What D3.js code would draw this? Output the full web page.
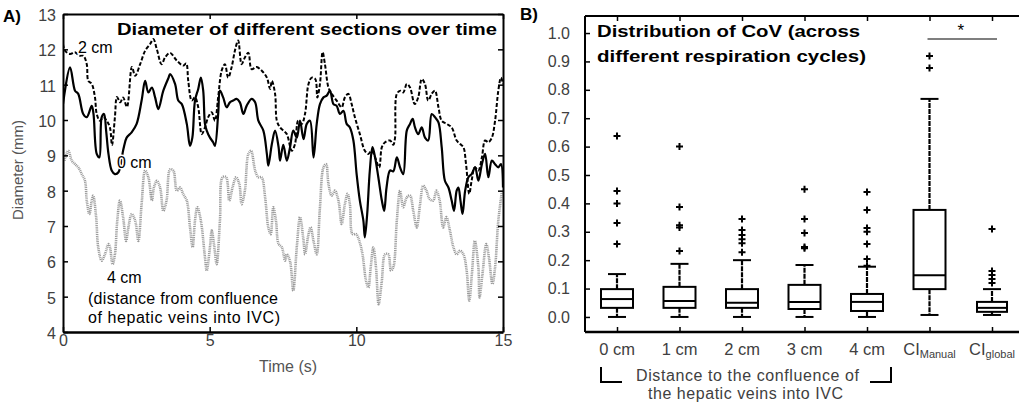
<!DOCTYPE html>
<html><head><meta charset="utf-8">
<script src="https://cdn.jsdelivr.net/npm/d3@7"></script>
<style>
body{margin:0;background:#fff;}
svg{display:block;font-family:"Liberation Sans",Arial,sans-serif;}
</style></head><body>
<svg id="chart" width="1019" height="410"></svg>
<script>
// ---------- data: panel A (diameter over time) ----------
const time0 = [0,0.24,0.41,0.52,0.69,0.81,0.98,1.04,1.15,1.24,1.32,1.4,1.47,1.55,1.66,1.77,1.89,2.06,2.17,2.34,2.51,2.68,2.8,2.91,3.03,3.14,3.25,3.42,3.6,3.65,3.82,3.93,4.05,4.22,4.33,4.41,4.5,4.61,4.7,4.78,4.84,4.9,5.01,5.12,5.18,5.29,5.35,5.46,5.58,5.69,5.8,5.92,6.03,6.15,6.26,6.43,6.55,6.66,6.83,6.95,7.0,7.12,7.23,7.35,7.4,7.51,7.63,7.74,7.85,7.97,8.08,8.2,8.31,8.42,8.54,8.65,8.76,8.88,8.99,9.1,9.22,9.33,9.44,9.56,9.67,9.78,9.9,10.01,10.12,10.24,10.29,10.37,10.46,10.55,10.64,10.75,10.87,10.95,11.03,11.15,11.26,11.38,11.49,11.6,11.72,11.83,11.92,12.0,12.11,12.23,12.34,12.45,12.57,12.68,12.8,12.91,13.02,13.14,13.25,13.33,13.42,13.48,13.55,13.62,13.71,13.82,13.93,14.05,14.16,14.28,14.39,14.5,14.62,14.73,14.84,14.93,15.0];
const diam0 = [10.45,11.49,10.83,10.74,10.17,10.08,10.4,10.17,9.04,8.94,10.08,10.17,9.7,9.04,8.57,8.47,8.52,9.18,9.5,9.65,9.89,10.55,11.11,10.78,10.92,10.64,10.31,10.83,11.2,11.3,11.02,10.55,10.45,9.89,9.27,9.5,10.55,10.88,11.2,10.83,9.89,9.7,9.5,9.37,9.27,10.17,10.83,10.64,10.36,10.5,10.55,10.6,10.5,10.17,10.4,10.6,10.5,9.98,9.7,9.04,8.71,9.32,9.7,9.23,8.85,9.3,8.85,9.23,9.7,9.5,9.98,9.46,9.89,9.98,8.94,9.89,10.45,10.64,10.69,10.83,10.45,10.4,10.17,10.26,9.89,9.79,9.42,8.47,7.72,7.15,6.68,7.34,8.57,9.23,8.94,8.38,7.72,7.43,8.09,8.57,8.55,8.94,8.66,8.47,9.7,9.89,10.03,9.79,9.6,9.79,9.5,9.42,10.17,10.08,9.93,9.23,8.28,8.09,7.72,7.43,8.0,8.09,7.72,7.34,8.0,8.38,8.47,8.66,8.28,8.75,9.04,8.38,8.85,8.75,8.66,8.75,8.09];

const time2 = [0,0.07,0.24,0.41,0.55,0.69,0.81,0.86,0.98,1.09,1.15,1.26,1.38,1.49,1.6,1.67,1.77,1.84,1.95,2.05,2.18,2.35,2.46,2.63,2.8,2.97,3.08,3.2,3.36,3.48,3.65,3.88,4.1,4.2,4.27,4.39,4.5,4.61,4.73,4.84,4.95,5.07,5.18,5.29,5.41,5.52,5.63,5.75,5.86,5.97,6.09,6.2,6.32,6.43,6.6,6.77,6.95,7.06,7.12,7.23,7.29,7.4,7.51,7.63,7.8,7.91,8.02,8.14,8.25,8.37,8.48,8.6,8.67,8.76,8.85,8.93,9.05,9.16,9.33,9.5,9.61,9.73,9.84,9.95,10.12,10.29,10.41,10.52,10.64,10.78,10.87,10.98,11.15,11.26,11.32,11.38,11.5,11.6,11.72,11.83,11.99,12.11,12.23,12.34,12.45,12.57,12.68,12.8,12.91,13.08,13.25,13.42,13.54,13.65,13.74,13.85,13.93,14.04,14.16,14.28,14.39,14.5,14.62,14.73,14.84,14.93,15];
const diam2 = [12.15,11.96,11.87,11.92,11.82,11.82,11.58,11.11,11.02,10.64,10.17,9.98,10.08,9.98,9.79,9.29,10.08,10.65,10.5,10.64,10.37,11.5,11.25,11.58,11.96,12.15,12.29,12.0,11.58,11.77,11.9,11.68,11.54,11.6,11.11,10.55,10.64,10.36,9.6,9.79,10.08,10.22,9.98,10.64,11.4,11.58,11.2,11.5,11.96,12.25,11.58,11.77,11.9,11.44,11.5,11.4,11.2,10.88,11.11,10.74,9.98,9.79,9.7,9.6,9.13,9.32,9.98,9.89,10.17,11.02,11.2,11.16,10.64,11.02,11.92,11.58,10.92,10.74,10.55,10.36,10.64,10.74,10.45,10.08,9.6,9.13,9.04,9.13,8.94,8.66,9.23,9.37,9.42,9.3,9.5,10.74,10.83,10.78,11.02,10.92,10.45,10.64,11.16,11.02,10.55,10.74,10.83,10.36,9.98,9.89,9.79,9.42,9.32,9.23,8.75,7.91,8.28,8.66,8.57,8.94,9.42,9.37,9.5,9.98,10.83,11.2,11.02];

const time4 = [0.05,0.18,0.3,0.41,0.52,0.64,0.75,0.81,0.9,0.98,1.03,1.13,1.2,1.32,1.43,1.55,1.6,1.69,1.77,1.85,1.94,2.05,2.15,2.23,2.34,2.46,2.57,2.68,2.8,2.91,3.03,3.1,3.2,3.31,3.42,3.53,3.65,3.76,3.88,3.99,4.1,4.22,4.33,4.42,4.5,4.58,4.7,4.84,4.9,5.01,5.07,5.16,5.24,5.35,5.44,5.56,5.67,5.78,5.9,6.01,6.09,6.2,6.32,6.41,6.55,6.66,6.77,6.89,7.0,7.08,7.17,7.26,7.35,7.46,7.57,7.63,7.74,7.85,7.97,8.08,8.2,8.25,8.37,8.44,8.54,8.65,8.76,8.88,8.97,9.05,9.16,9.27,9.39,9.5,9.61,9.7,9.78,9.87,9.99,10.1,10.21,10.33,10.41,10.49,10.58,10.67,10.76,10.87,10.98,11.09,11.18,11.26,11.38,11.49,11.6,11.72,11.83,11.94,12.06,12.17,12.28,12.39,12.5,12.62,12.73,12.84,12.96,13.07,13.19,13.31,13.42,13.53,13.65,13.76,13.85,13.94,14.04,14.16,14.2,14.3,14.43,14.52,14.64,14.73,14.84,14.96];
const diam4 = [8.85,9.13,8.85,8.75,8.66,8.47,8.28,7.72,7.34,7.72,7.86,7.25,6.4,6.02,6.2,6.49,6.4,5.92,6.2,7.15,7.72,7.25,6.58,6.96,7.34,7.15,6.58,7.62,8.57,8.38,7.72,8.09,8.28,8.09,7.43,7.72,8.6,8.57,8.0,8.09,7.9,7.72,6.96,6.4,7.15,7.53,7.15,6.11,5.74,6.4,6.87,6.4,5.92,7.15,8.38,8.38,7.72,8.09,8.38,8.19,7.62,8.0,9.04,9.13,8.57,8.38,8.38,7.81,6.96,6.77,7.53,7.15,6.49,6.4,6.02,6.2,6.0,5.17,6.4,7.25,6.58,6.2,6.77,6.96,6.58,6.2,7.53,8.66,8.75,8.19,7.86,8.0,7.72,7.06,7.62,7.91,7.62,6.77,6.77,6.58,6.2,5.45,5.26,5.83,6.4,5.83,4.79,5.45,6.2,6.2,5.74,5.83,7.15,8.0,7.53,7.81,7.86,7.43,6.96,7.6,8.14,8.0,7.76,7.72,8.0,7.72,6.96,7.25,6.87,6.4,6.2,6.3,6.2,5.74,4.89,5.64,6.58,5.83,4.98,5.64,6.49,6.11,5.36,5.83,7.15,7.96];

const ticksTime = [0, 5, 10, 15];
const ticksDiam = [4, 5, 6, 7, 8, 9, 10, 11, 12, 13];

// ---------- data: panel B (CoV box plots) ----------
const categories = ["0 cm", "1 cm", "2 cm", "3 cm", "4 cm", "CIManual", "CIglobal"];
const catMain = ["0 cm", "1 cm", "2 cm", "3 cm", "4 cm", "CI", "CI"];
const catSub = ["", "", "", "", "", "Manual", "global"];
// [lower whisker, q1, median, q3, upper whisker]
const boxStats = [
  [0.0, 0.032, 0.063, 0.098, 0.151],
  [0.0, 0.032, 0.056, 0.106, 0.187],
  [0.0, 0.032, 0.050, 0.098, 0.200],
  [0.0, 0.028, 0.053, 0.113, 0.183],
  [0.0, 0.021, 0.053, 0.081, 0.177],
  [0.007, 0.098, 0.147, 0.377, 0.768],
  [0.007, 0.018, 0.032, 0.053, 0.098]
];
const outliers = [
  [0.637, 0.444, 0.40, 0.331, 0.257],
  [0.60, 0.387, 0.323, 0.315, 0.232],
  [0.345, 0.306, 0.289, 0.274, 0.26, 0.228],
  [0.45, 0.345, 0.296, 0.246, 0.242],
  [0.44, 0.377, 0.313, 0.30, 0.257, 0.204, 0.18],
  [0.919, 0.877],
  [0.31, 0.162, 0.148, 0.134, 0.12]
];
const ticksCoV = d3.range(0, 1.01, 0.1);

// =====================================================
const svg = d3.select('#chart');
const GRAY = '#404040';

// ---------------- Panel A ----------------
const xA = d3.scaleLinear().domain([0, 15]).range([63, 503]);
const yA = d3.scaleLinear().domain([4, 13]).range([332, 14]);

svg.append('clipPath').attr('id', 'clipA').append('rect')
  .attr('x', 63).attr('y', 14).attr('width', 440).attr('height', 318);

const gA = svg.append('g');
const line = d3.line().x(d => xA(d[0])).y(d => yA(d[1])).curve(d3.curveCatmullRom.alpha(0.5));
const linesA = gA.append('g').attr('clip-path', 'url(#clipA)');

linesA.append('path').datum(d3.zip(time4, diam4))
  .attr('d', line).attr('fill', 'none')
  .attr('stroke', '#9a9a9a').attr('stroke-width', 2.6).attr('stroke-dasharray', '1,0.8');
linesA.append('path').datum(d3.zip(time2, diam2))
  .attr('d', line).attr('fill', 'none')
  .attr('stroke', '#000').attr('stroke-width', 2).attr('stroke-dasharray', '4,2');
linesA.append('path').datum(d3.zip(time0, diam0))
  .attr('d', line).attr('fill', 'none')
  .attr('stroke', '#000').attr('stroke-width', 2.2);

function styleAxis(g, labels) {
  g.select('.domain').attr('stroke', '#000').attr('stroke-width', 2);
  g.selectAll('.tick line').attr('stroke', '#000').attr('stroke-width', 1.5);
  g.selectAll('.tick text').attr('fill', GRAY).style('font-size', labels);
}

const axLeftA = gA.append('g').attr('transform', 'translate(63,0)')
  .call(d3.axisLeft(yA).tickValues(ticksDiam).tickSize(-5).tickSizeOuter(0).tickPadding(7));
styleAxis(axLeftA, '16px');
axLeftA.selectAll('.tick text').attr('dy', '0.4em');
const axRightA = gA.append('g').attr('transform', 'translate(503,0)')
  .call(d3.axisRight(yA).tickValues(ticksDiam).tickSize(-5).tickSizeOuter(0).tickFormat(''));
styleAxis(axRightA, '16px');
const axBottomA = gA.append('g').attr('transform', 'translate(0,332)')
  .call(d3.axisBottom(xA).tickValues(ticksTime).tickSize(-5).tickSizeOuter(0).tickPadding(3));
styleAxis(axBottomA, '16px');
axBottomA.select('.domain').attr('stroke-width', 2.6);
const axTopA = gA.append('g').attr('transform', 'translate(0,14)')
  .call(d3.axisTop(xA).tickValues(ticksTime).tickSize(-5).tickSizeOuter(0).tickFormat(''));
styleAxis(axTopA, '16px');

gA.append('text').attr('x', 3).attr('y', 22).text('A)')
  .style('font-size', '17px').style('font-weight', 'bold');
gA.append('text').attr('x', 117).attr('y', 35)
  .attr('textLength', 380).attr('lengthAdjust', 'spacingAndGlyphs')
  .text('Diameter of different sections over time')
  .style('font-size', '17px').style('font-weight', 'bold');
gA.append('text').attr('transform', 'translate(23,170) rotate(-90)')
  .attr('text-anchor', 'middle').attr('fill', '#555').style('font-size', '15px')
  .text('Diameter (mm)');
gA.append('text').attr('x', 288).attr('y', 372).attr('text-anchor', 'middle')
  .attr('fill', '#555').style('font-size', '16px').text('Time (s)');

const seriesLabels = [
  { t: '2 cm', x: 78, y: 53 },
  { t: '0 cm', x: 117, y: 168 },
  { t: '4 cm', x: 107, y: 283 }
];
gA.selectAll('.slab').data(seriesLabels).enter().append('text')
  .attr('x', d => d.x).attr('y', d => d.y).text(d => d.t)
  .style('font-size', '16px')
  .attr('stroke', '#fff').attr('stroke-width', 3).attr('paint-order', 'stroke');
gA.append('text').attr('x', 88).attr('y', 304).style('font-size', '16px')
  .attr('textLength', 190).attr('lengthAdjust', 'spacing')
  .text('(distance from confluence');
gA.append('text').attr('x', 88).attr('y', 323).style('font-size', '16px')
  .attr('textLength', 192).attr('lengthAdjust', 'spacing')
  .text('of hepatic veins into IVC)');

// ---------------- Panel B ----------------
const xB = d3.scalePoint().domain(categories).range([617, 992]);
const yB = d3.scaleLinear().domain([-0.053, 1.06]).range([332, 16]);
const gB = svg.append('g');

const axLeftB = gB.append('g').attr('transform', 'translate(585,0)')
  .call(d3.axisLeft(yB).tickValues(ticksCoV).tickFormat(d3.format('.1f'))
    .tickSize(-5).tickSizeOuter(0).tickPadding(15));
styleAxis(axLeftB, '16px');
axLeftB.select('.domain').attr('d', `M0,${yB.range()[0]}V${yB.range()[1]}`);
const axBottomB = gB.append('g').attr('transform', 'translate(0,332)')
  .call(d3.axisBottom(xB).tickSize(-5).tickSizeOuter(0).tickFormat(''));
styleAxis(axBottomB, '16px');
axBottomB.select('.domain').attr('d', 'M585,0H1019').attr('stroke-width', 2.6);
const axTopB = gB.append('g').attr('transform', 'translate(0,16)')
  .call(d3.axisTop(xB).tickSize(-5).tickSizeOuter(0).tickFormat(''));
styleAxis(axTopB, '16px');
axTopB.select('.domain').attr('d', 'M585,0H1019');

const boxW = 32, capW = 18;
const boxes = gB.selectAll('.box').data(categories).enter().append('g')
  .attr('transform', d => `translate(${xB(d)},0)`);
boxes.each(function(c, i) {
  const g = d3.select(this);
  const [lo, q1, md, q3, hi] = boxStats[i];
  const bw = i === 6 ? 30 : boxW;
  g.append('line').attr('y1', yB(q3)).attr('y2', yB(hi))
    .attr('stroke', '#000').attr('stroke-width', 2.2).attr('stroke-dasharray', '5,1');
  g.append('line').attr('y1', yB(q1)).attr('y2', yB(lo))
    .attr('stroke', '#000').attr('stroke-width', 2.2).attr('stroke-dasharray', '5,1');
  [lo, hi].forEach(v => g.append('line').attr('x1', -capW / 2).attr('x2', capW / 2)
    .attr('y1', yB(v)).attr('y2', yB(v)).attr('stroke', '#000').attr('stroke-width', 2));
  g.append('rect').attr('x', -bw / 2).attr('width', bw)
    .attr('y', yB(q3)).attr('height', yB(q1) - yB(q3))
    .attr('fill', '#fff').attr('stroke', '#000').attr('stroke-width', 2);
  g.append('line').attr('x1', -bw / 2).attr('x2', bw / 2)
    .attr('y1', yB(md)).attr('y2', yB(md)).attr('stroke', '#000').attr('stroke-width', 2);
  g.selectAll('.out').data(outliers[i]).enter().append('path')
    .attr('d', v => `M-3.5,${yB(v)}h7M0,${yB(v) - 3.5}v7`)
    .attr('stroke', '#000').attr('stroke-width', 2);
  const lab = g.append('text').attr('y', 355).attr('text-anchor', 'middle')
    .attr('fill', GRAY).style('font-size', '16.5px');
  lab.append('tspan').text(catMain[i]);
  if (catSub[i]) lab.append('tspan').attr('dy', 3).style('font-size', '11px').text(catSub[i]);
});

gB.append('text').attr('x', 520).attr('y', 20).text('B)')
  .style('font-size', '17px').style('font-weight', 'bold');
gB.append('text').attr('x', 597).attr('y', 37)
  .attr('textLength', 263).attr('lengthAdjust', 'spacingAndGlyphs')
  .text('Distribution of CoV (across').style('font-size', '17px').style('font-weight', 'bold');
gB.append('text').attr('x', 597).attr('y', 62)
  .attr('textLength', 269).attr('lengthAdjust', 'spacingAndGlyphs')
  .text('different respiration cycles)').style('font-size', '17px').style('font-weight', 'bold');

// significance bar between CI groups
gB.append('line').attr('x1', xB('CIManual') - 2).attr('x2', xB('CIglobal') + 5)
  .attr('y1', 39).attr('y2', 39).attr('stroke', '#000').attr('stroke-width', 1.2);
gB.append('text').attr('x', (xB('CIManual') + xB('CIglobal')) / 2).attr('y', 36)
  .attr('text-anchor', 'middle').style('font-size', '17px').text('*');

// bracket for distance categories
gB.append('path').attr('d', 'M601,367V382H622').attr('fill', 'none')
  .attr('stroke', '#000').attr('stroke-width', 2);
gB.append('path').attr('d', 'M870,382H891V367').attr('fill', 'none')
  .attr('stroke', '#000').attr('stroke-width', 2);
gB.append('text').attr('x', 636).attr('y', 381).attr('fill', GRAY).style('font-size', '16px')
  .attr('textLength', 223).attr('lengthAdjust', 'spacing')
  .text('Distance to the confluence of');
gB.append('text').attr('x', 648).attr('y', 399).attr('fill', GRAY).style('font-size', '16px')
  .attr('textLength', 195).attr('lengthAdjust', 'spacing')
  .text('the hepatic veins into IVC');
</script></body></html>
